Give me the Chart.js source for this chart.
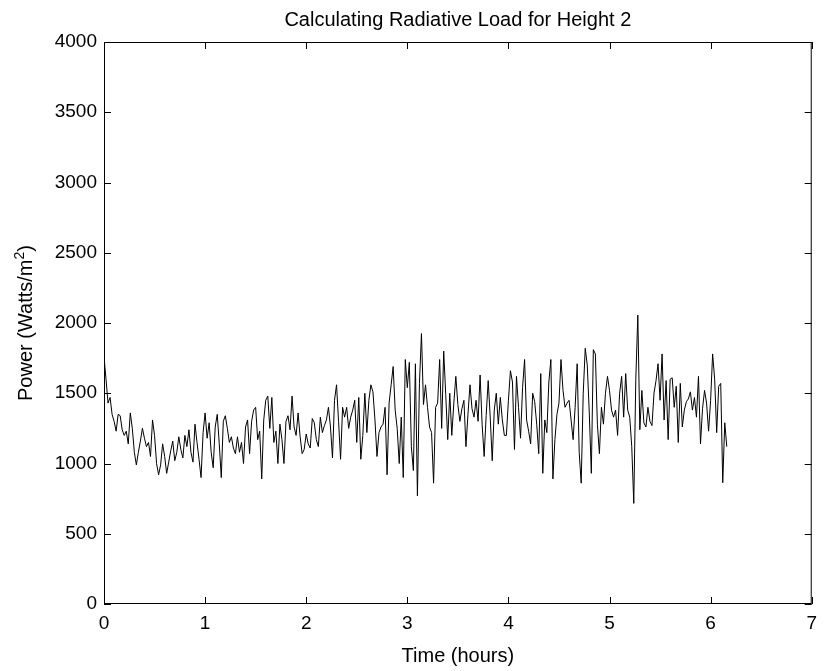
<!DOCTYPE html>
<html>
<head>
<meta charset="utf-8">
<script src="https://cdn.jsdelivr.net/npm/chart.js@4.4.1/dist/chart.umd.min.js"></script>
<style>
  html, body { margin: 0; padding: 0; background: #fff; }
  canvas { display: block; }
</style>
</head>
<body>
<canvas id="chart" width="825" height="671"></canvas>
<script>
// sample spacing of the record, hours
const timeStep = 0.02;

// radiative load, W/m^2, one value every timeStep
const powerValues = [
    1760, 1600, 1430, 1470, 1350, 1300, 1230, 1350, 1340, 1240,
    1200, 1230, 1140, 1360, 1250, 1080, 990, 1080, 1160, 1250,
    1180, 1120, 1150, 1050, 1310, 1200, 1000, 920, 990, 1140,
    1050, 930, 1010, 1090, 1160, 1020, 1080, 1190, 1100, 1040,
    1200, 1120, 1240, 1080, 1010, 1280, 1150, 1030, 900, 1220,
    1360, 1180, 1290, 1080, 970, 1260, 1350, 1140, 900, 1300,
    1340, 1250, 1150, 1190, 1110, 1070, 1190, 1080, 1150, 1000,
    1260, 1310, 1070, 1300, 1380, 1400, 1170, 1230, 890, 1310,
    1450, 1480, 1250, 1470, 1150, 1230, 1000, 1280, 1170, 1000,
    1300, 1340, 1240, 1480, 1260, 1200, 1360, 1190, 1070, 1100,
    1210, 1140, 1110, 1320, 1290, 1170, 1120, 1330, 1220, 1270,
    1310, 1400, 1260, 1040, 1450, 1560, 1300, 1030, 1400, 1330,
    1400, 1250, 1330, 1380, 1450, 1150, 1470, 1030, 1200, 1500,
    1220, 1450, 1560, 1510, 1310, 1050, 1220, 1260, 1280, 1400,
    920, 1430, 1560, 1690, 1380, 1250, 1000, 1330, 900, 1740,
    1540, 1720, 1120, 950, 1710, 770, 1570, 1925, 1420, 1560,
    1400, 1260, 1220, 860, 1400, 1430, 1740, 1250, 1800, 1490,
    1170, 1500, 1200, 1430, 1620, 1420, 1300, 1390, 1450, 1120,
    1350, 1560, 1390, 1330, 1450, 1300, 1630, 1280, 1050, 1340,
    1590, 1330, 1020, 1380, 1500, 1280, 1470, 1310, 1200, 1200,
    1450, 1660, 1580, 1100, 1620, 1400, 1180, 1540, 1740, 1310,
    1230, 1140, 1500, 1440, 1280, 1070, 1640, 930, 1310, 1220,
    1580, 1740, 890, 1170, 1350, 1430, 1740, 1520, 1400, 1430,
    1450, 1310, 1170, 1400, 1710, 1080, 860, 1500, 1820, 1700,
    1360, 930, 1810, 1780, 1280, 1070, 1400, 1280, 1500, 1620,
    1520, 1380, 1330, 1380, 1200, 1500, 1620, 1330, 1640, 1380,
    1330, 1120, 716, 1600, 2056, 1240, 1520, 1290, 1260, 1400,
    1300, 1270, 1500, 1590, 1710, 1450, 1780, 1310, 1590, 1170,
    1600, 1610, 1400, 1550, 1150, 1570, 1260, 1380, 1440, 1460,
    1510, 1380, 1470, 1330, 1620, 1140, 1390, 1520, 1430, 1230,
    1450, 1780, 1600, 1220, 1550, 1570, 863, 1290, 1120
];

const xTicks = [0, 1, 2, 3, 4, 5, 6, 7];
const yTicks = [0, 500, 1000, 1500, 2000, 2500, 3000, 3500, 4000];

const titleText = 'Calculating Radiative Load for Height 2';
const xLabelText = 'Time (hours)';

const FONT = '"Liberation Sans", Arial, sans-serif';
const TICK_LEN = 7;

const points = powerValues.map((v, i) => ({ x: i * timeStep, y: v }));

// box, inward ticks on all four sides, title and axis labels (matlab look)
const matlabFrame = {
    id: 'matlabFrame',
    afterDraw(chart) {
        const { ctx, chartArea: a, scales } = chart;
        ctx.save();
        ctx.strokeStyle = '#000';
        ctx.lineWidth = 1;
        ctx.strokeRect(a.left + 0.5, a.top + 0.5, a.right - a.left - 1, a.bottom - a.top - 1);

        ctx.beginPath();
        xTicks.forEach(t => {
            const px = Math.round(scales.x.getPixelForValue(t)) + 0.5;
            ctx.moveTo(px, a.bottom);
            ctx.lineTo(px, a.bottom - TICK_LEN);
            ctx.moveTo(px, a.top);
            ctx.lineTo(px, a.top + TICK_LEN);
        });
        yTicks.forEach(t => {
            const py = Math.round(scales.y.getPixelForValue(t)) + 0.5;
            ctx.moveTo(a.left, py);
            ctx.lineTo(a.left + TICK_LEN, py);
            ctx.moveTo(a.right, py);
            ctx.lineTo(a.right - TICK_LEN, py);
        });
        ctx.stroke();

        const cx = (a.left + a.right) / 2;
        ctx.fillStyle = '#000';
        ctx.textAlign = 'center';
        ctx.textBaseline = 'alphabetic';
        ctx.font = '20px ' + FONT;
        ctx.fillText(titleText, cx, 26);
        ctx.fillText(xLabelText, cx, 662);

        // rotated y label with superscript 2
        const mid = (a.top + a.bottom) / 2;
        ctx.translate(32, mid);
        ctx.rotate(-Math.PI / 2);
        const partA = 'Power (Watts/m';
        const partC = ')';
        const wA = ctx.measureText(partA).width;
        const wC = ctx.measureText(partC).width;
        ctx.font = '14px ' + FONT;
        const wB = ctx.measureText('2').width;
        const start = -(wA + wB + wC) / 2;
        ctx.textAlign = 'left';
        ctx.font = '20px ' + FONT;
        ctx.fillText(partA, start, 0);
        ctx.font = '14px ' + FONT;
        ctx.fillText('2', start + wA, -8);
        ctx.font = '20px ' + FONT;
        ctx.fillText(partC, start + wA + wB, 0);
        ctx.restore();
    }
};

new Chart(document.getElementById('chart'), {
    type: 'line',
    data: {
        datasets: [{
            data: points,
            borderColor: '#000',
            borderWidth: 1,
            pointRadius: 0,
            tension: 0,
            fill: false
        }]
    },
    options: {
        responsive: false,
        animation: false,
        devicePixelRatio: 1,
        layout: { padding: { left: 0, right: 7, top: 42, bottom: 0 } },
        plugins: {
            legend: { display: false },
            tooltip: { enabled: false },
            title: { display: false }
        },
        scales: {
            x: {
                type: 'linear',
                min: 0,
                max: 7,
                grid: { display: false, drawTicks: false },
                border: { display: false },
                ticks: {
                    stepSize: 1,
                    color: '#000',
                    padding: 8,
                    maxRotation: 0,
                    font: { family: FONT, size: 19 },
                    callback: v => String(v)
                },
                afterFit: s => { s.height = 67; }
            },
            y: {
                type: 'linear',
                min: 0,
                max: 4000,
                grid: { display: false, drawTicks: false },
                border: { display: false },
                ticks: {
                    stepSize: 500,
                    color: '#000',
                    padding: 7,
                    font: { family: FONT, size: 19 },
                    callback: v => String(v)
                },
                afterFit: s => { s.width = 104; }
            }
        }
    },
    plugins: [matlabFrame]
});
</script>
</body>
</html>
